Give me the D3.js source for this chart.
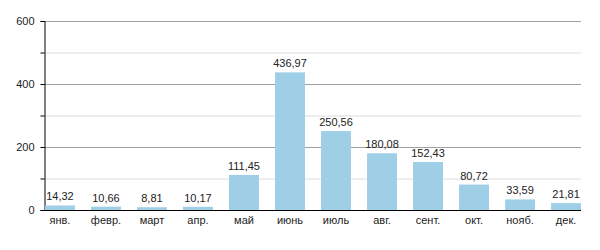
<!DOCTYPE html>
<html>
<head>
<meta charset="utf-8">
<script src="https://cdn.jsdelivr.net/npm/d3@7"></script>
<style>
  body { margin: 0; background: #fff; }
  text { font-family: "Liberation Sans", Arial, sans-serif; fill: #222; }
</style>
</head>
<body>
<svg id="chart" width="600" height="250"></svg>
<script>
const months = ["янв.", "февр.", "март", "апр.", "май", "июнь", "июль", "авг.", "сент.", "окт.", "нояб.", "дек."];
const values = [14.32, 10.66, 8.81, 10.17, 111.45, 436.97, 250.56, 180.08, 152.43, 80.72, 33.59, 21.81];
const majorTicks = [0, 200, 400, 600];
const minorTicks = [100, 300, 500];

const svg = d3.select("#chart"),
      plotLeft = 44, plotRight = 581, plotTop = 21, plotBottom = 210;

const x = d3.scaleBand()
            .domain(months)
            .range([plotLeft + 1, plotRight])
            .paddingInner(0.35)
            .paddingOuter(0);

const y = d3.scaleLinear()
            .domain([0, 600])
            .range([plotBottom, plotTop]);

const fmt = v => v.toFixed(2).replace(".", ",");

// minor gridlines
svg.append("g").selectAll("line")
  .data(minorTicks).enter().append("line")
  .attr("x1", plotLeft).attr("x2", plotRight)
  .attr("y1", d => y(d) + 0.5).attr("y2", d => y(d) + 0.5)
  .attr("stroke", "#dcdcdc");

// major gridlines
svg.append("g").selectAll("line")
  .data(majorTicks.filter(d => d > 0)).enter().append("line")
  .attr("x1", plotLeft).attr("x2", plotRight)
  .attr("y1", d => y(d) + 0.5).attr("y2", d => y(d) + 0.5)
  .attr("stroke", "#a0a0a0");

// Y axis
const yAxis = svg.append("g")
  .attr("transform", `translate(${plotLeft + 0.5},0)`)
  .call(d3.axisLeft(y).tickValues(majorTicks).tickSize(4).tickPadding(6));
yAxis.select(".domain").attr("stroke", "#000");
yAxis.selectAll(".tick line").attr("stroke", "#000");
yAxis.selectAll("text").style("font-size", "11px").attr("fill", "#222");

svg.append("g")
  .attr("transform", `translate(${plotLeft + 0.5},0)`)
  .call(d3.axisLeft(y).tickValues(minorTicks).tickSize(4).tickFormat(""))
  .call(g => g.select(".domain").remove())
  .selectAll(".tick line").attr("stroke", "#000");

// Bars
svg.selectAll(".bar")
  .data(values)
  .enter()
  .append("rect")
  .attr("class", "bar")
  .attr("x", (d, i) => x(months[i]))
  .attr("y", d => y(d))
  .attr("width", x.bandwidth())
  .attr("height", d => plotBottom - y(d))
  .attr("fill", "#9ecfe6");

// Value labels
svg.selectAll(".val")
  .data(values)
  .enter()
  .append("text")
  .attr("class", "val")
  .attr("x", (d, i) => x(months[i]) + x.bandwidth() / 2)
  .attr("y", d => y(d) - 5)
  .attr("text-anchor", "middle")
  .style("font-size", "11px")
  .text(fmt);

// X axis
const xAxis = svg.append("g")
  .attr("transform", `translate(0,${plotBottom + 0.5})`)
  .call(d3.axisBottom(x).tickSize(0).tickPadding(6));
xAxis.select(".domain").attr("stroke", "#000").attr("d", `M${plotLeft},0H${plotRight}`);
xAxis.selectAll("text").style("font-size", "11px").attr("fill", "#222");
</script>
</body>
</html>
